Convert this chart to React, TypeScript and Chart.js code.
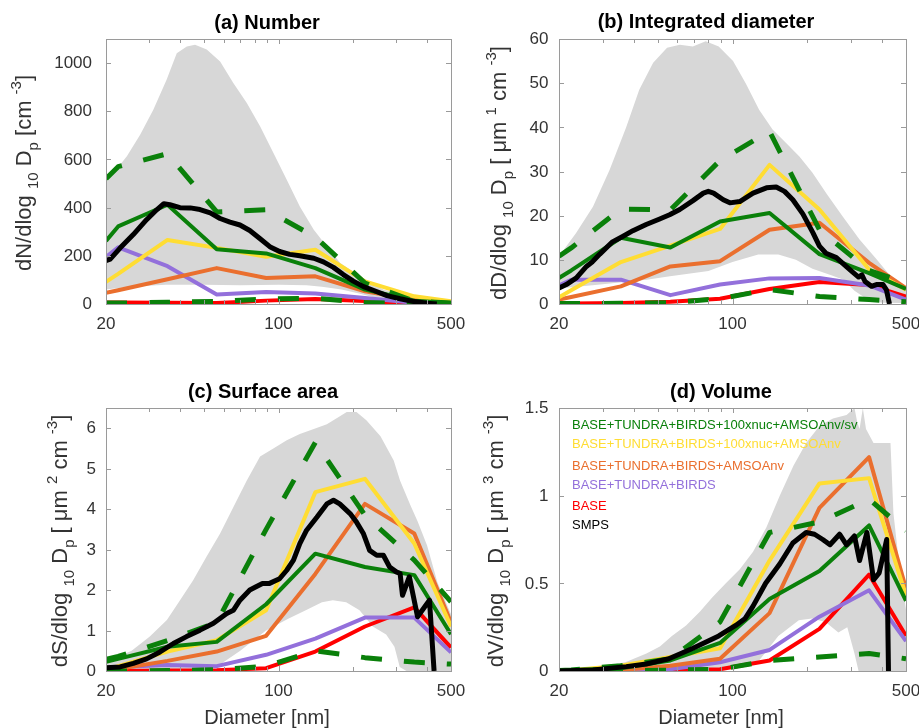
import React, { useEffect, useRef } from 'react';
import { Chart, registerables } from 'chart.js';
Chart.register(...registerables);

const FONT = '"Liberation Sans", Arial, Helvetica, sans-serif';
const GREEN = '#0a800a';
const YELLOW = '#ffdd33';
const ORANGE = '#ea6f2e';
const PURPLE = '#9370db';
const RED = '#ff0000';
const BLACK = '#000000';
const GRAY = '#d7d7d7';
const BOX = '#9a9a9a';
const TXT = '#333333';

// model bin diameters (nm)
const MODEL_D = [20, 22.4, 35.5, 56.2, 89.1, 141, 224, 355, 500];
const X_TICK_LABELS = [20, 100, 500];
const X_TICK_MARKS = [30, 40, 50, 60, 70, 80, 90, 100, 200, 300, 400];

// ---------- (a) Number ----------
const A_GREEN = [262, 322, 412, 227, 210, 149, 60, 14, 4];
const A_YELLOW = [92, 125, 266, 233, 196, 225, 94, 32, 11];
const A_ORANGE = [46, 57, 103, 149, 108, 115, 53, 18, 5];
const A_PURPLE = [195, 235, 157, 39, 50, 44, 25, 5, 1];
const A_RED = [6, 6, 5, 4, 14, 21, 12, 3, 1];
const A_DASH_UP = [520, 570, 624, 382, 391, 278, 87, 11, 4];
const A_DASH_LO = [4, 4, 7, 11, 21, 24, 6, 2, 1];
const A_SMPS_D = [20, 20.8, 22.8, 25.8, 29.2, 32.1, 34.3, 36.3, 39.9, 43.9, 48.1, 52.9, 58, 63.6, 69.8, 76.5, 84, 92.2, 101, 111, 122, 139, 152, 167, 183, 201, 221, 242, 275, 311, 354, 400, 438];
const A_SMPS = [180, 186, 232, 288, 350, 391, 416, 412, 400, 399, 392, 378, 355, 340, 328, 305, 272, 238, 218, 206, 200, 190, 175, 152, 122, 95, 72, 57, 35, 22, 10, 3, 0];
const A_UP_D = [20, 24.3, 27.5, 31.1, 35.2, 38.7, 42.5, 45.9, 51.2, 58, 65.6, 74.4, 84.3, 95.4, 108, 122, 139, 157, 178, 214, 267, 364, 500];
const A_UP = [505, 613, 703, 806, 931, 1041, 1069, 1076, 1056, 1007, 917, 834, 737, 627, 516, 405, 308, 239, 170, 115, 59, 25, 11];
const A_LO_D = [20, 25, 35, 50, 70, 100, 130, 150, 180, 210, 250, 300, 400, 500];
const A_LO = [60, 72, 80, 80, 78, 80, 78, 72, 60, 45, 25, 10, 3, 2];
const A_YTICKS = [0, 200, 400, 600, 800, 1000];

// ---------- (b) Integrated diameter ----------
const B_GREEN = [5.9, 7.6, 15.0, 12.8, 18.7, 20.6, 11.3, 7.0, 3.4];
const B_YELLOW = [1.5, 3.1, 9.5, 13.2, 17.0, 31.5, 21.4, 7.8, 3.2];
const B_ORANGE = [1.0, 1.6, 4.0, 8.5, 9.7, 16.8, 18.4, 9.3, 3.6];
const B_PURPLE = [4.2, 5.5, 5.5, 2.0, 4.4, 5.8, 5.9, 4.2, 1.0];
const B_RED = [0.1, 0.1, 0.2, 0.5, 1.2, 3.4, 5.0, 4.3, 1.7];
const B_DASH_UP = [10.8, 12.7, 21.5, 21.3, 32.5, 39.1, 16.8, 7.6, 4.8];
const B_DASH_LO = [0.1, 0.1, 0.15, 0.3, 1.2, 3.3, 1.7, 1.0, 0.5];
const B_SMPS_D = [20, 21.4, 23.5, 25.8, 27.2, 29.2, 32.7, 36.1, 39.7, 44.9, 50.6, 55.8, 61.3, 69.3, 76.3, 79.9, 83.9, 91.8, 97.6, 107, 121, 137, 150, 162, 175, 192, 211, 224, 238, 262, 287, 305, 322, 332, 342, 363, 380, 404, 417, 429];
const B_SMPS = [3.6, 4.4, 5.9, 8.5, 9.5, 11.3, 14.0, 15.3, 16.6, 18.0, 19.2, 20.2, 21.4, 23.4, 25.1, 25.5, 25.1, 23.6, 22.9, 23.2, 25.1, 26.3, 26.5, 25.5, 23.6, 20.4, 16.1, 13.1, 11.5, 10.5, 8.5, 7.2, 6.1, 6.6, 5.1, 4.0, 4.4, 4.4, 3.2, 0];
const B_UP_D = [20, 23.4, 27.4, 32, 37.3, 42.1, 47.9, 54.5, 61.4, 69.2, 78, 88, 100.5, 113, 128, 145, 164, 186, 210, 239, 278, 325, 382, 445, 500];
const B_UP = [10.8, 16, 22, 30.4, 40, 48.5, 54.6, 58, 58.7, 58.3, 59.5, 58.3, 55, 50, 44, 39.5, 36.5, 33.4, 29.7, 25, 19.8, 14.6, 10, 5.5, 3.2];
const B_LO_D = [20, 30, 45, 56, 80, 100, 127, 153, 180, 210, 250, 280, 310, 350, 400, 500];
const B_LO = [3.5, 4.5, 5.5, 6.3, 7.5, 9.5, 11.2, 11.2, 10, 8, 6.5, 5.5, 3, 1, 0.3, 0.2];
const B_YTICKS = [0, 10, 20, 30, 40, 50, 60];

// ---------- (c) Surface area ----------
const C_GREEN = [0.23, 0.3, 0.6, 0.72, 1.65, 2.9, 2.57, 2.37, 0.91];
const C_YELLOW = [0.02, 0.12, 0.48, 0.76, 1.5, 4.42, 4.75, 3.15, 1.1];
const C_ORANGE = [0.02, 0.05, 0.25, 0.48, 0.87, 2.4, 4.13, 3.4, 1.2];
const C_PURPLE = [0.08, 0.1, 0.15, 0.12, 0.4, 0.8, 1.32, 1.32, 0.46];
const C_RED = [0, 0, 0.01, 0.02, 0.07, 0.48, 1.1, 1.57, 0.58];
const C_DASH_UP = [0.29, 0.36, 0.75, 1.2, 3.5, 5.65, 3.85, 2.74, 1.71];
const C_DASH_LO = [0, 0, 0.01, 0.03, 0.12, 0.5, 0.33, 0.22, 0.17];
const C_SMPS_D = [20, 22.8, 25.8, 29.2, 33.1, 37.5, 42.4, 48.1, 54.5, 61.7, 65.6, 69.8, 76.5, 81.1, 86.1, 91.5, 101, 108, 115, 122, 130, 143, 157, 167, 177, 195, 207, 221, 234, 250, 266, 282, 300, 311, 318, 339, 366, 409, 427];
const C_SMPS = [0.08, 0.1, 0.19, 0.3, 0.47, 0.68, 0.85, 1.01, 1.18, 1.42, 1.5, 1.75, 2.0, 2.08, 2.16, 2.16, 2.28, 2.49, 2.74, 3.15, 3.48, 3.8, 4.13, 4.22, 4.13, 3.89, 3.68, 3.39, 2.98, 2.86, 2.86, 2.57, 2.45, 2.41, 1.87, 2.33, 1.34, 1.75, 0];
const C_UP_D = [20, 25.4, 30.1, 35.3, 39.9, 45.1, 51, 58, 65.6, 74.3, 84.2, 95.3, 108, 122, 139, 157, 178, 189, 207, 227, 259, 293, 311, 342, 366, 400, 440, 500];
const C_UP = [0.23, 0.5, 0.85, 1.26, 1.75, 2.24, 2.82, 3.4, 4.05, 4.7, 5.3, 5.5, 5.7, 5.86, 5.98, 6.1, 6.3, 6.4, 6.4, 6.2, 5.8, 5.2, 4.7, 4.1, 3.7, 3.1, 2.2, 1.4];
const C_LO_D = [20, 40, 56, 70, 89, 110, 129, 150, 166, 188, 213, 241, 273, 295, 310, 330, 500];
const C_LO = [0, 0, 0.1, 0.5, 1.0, 1.3, 1.5, 1.7, 1.75, 1.7, 1.5, 1.1, 0.9, 0.6, 0.1, 0, 0];
const C_YTICKS = [0, 1, 2, 3, 4, 5, 6];

// ---------- (d) Volume ----------
const D_GREEN = [0, 0.005, 0.015, 0.06, 0.16, 0.41, 0.57, 0.83, 0.4];
const D_YELLOW = [0, 0.005, 0.03, 0.08, 0.13, 0.63, 1.07, 1.1, 0.43];
const D_ORANGE = [0, 0.002, 0.005, 0.03, 0.07, 0.33, 0.93, 1.22, 0.47];
const D_PURPLE = [0, 0, 0.003, 0.01, 0.05, 0.12, 0.31, 0.46, 0.17];
const D_RED = [0, 0, 0.002, 0.005, 0.01, 0.06, 0.24, 0.55, 0.2];
const D_DASH_UP = [0.003, 0.006, 0.03, 0.07, 0.28, 0.79, 0.85, 0.98, 0.8];
const D_DASH_LO = [0, 0, 0.002, 0.005, 0.01, 0.06, 0.08, 0.1, 0.07];
const D_SMPS_D = [20, 27.4, 37.3, 44.9, 55.4, 69.3, 88, 103, 112.5, 121, 136, 155, 175, 198, 214, 231, 247, 270, 288, 310, 325, 348, 370, 390, 418, 425];
const D_SMPS = [0, 0.006, 0.025, 0.04, 0.07, 0.13, 0.2, 0.26, 0.3, 0.37, 0.5, 0.61, 0.73, 0.79, 0.78, 0.75, 0.72, 0.78, 0.72, 0.77, 0.63, 0.79, 0.52, 0.56, 0.75, 0];
const D_UP_D = [20, 27, 37, 45, 51, 57, 65, 74, 83, 94, 107, 121, 137, 155, 176, 198, 225, 254, 288, 310, 318, 325, 335, 345, 370, 400, 433, 445, 470, 500];
const D_UP = [0.003, 0.015, 0.05, 0.1, 0.14, 0.2, 0.26, 0.34, 0.42, 0.5, 0.58, 0.68, 0.82, 1.0, 1.17, 1.3, 1.4, 1.44, 1.46, 1.5, 1.42, 1.38, 1.5, 1.38, 1.3, 1.3, 1.3, 0.9, 0.6, 0.35];
const D_LO_D = [20, 100, 128, 153, 185, 209, 237, 267, 290, 310, 322, 500];
const D_LO = [0, 0.02, 0.06, 0.2, 0.29, 0.3, 0.28, 0.22, 0.25, 0.1, 0, 0];
const D_YTICKS = [0, 0.5, 1, 1.5];

const LEGEND_LABELS = [
  'BASE+TUNDRA+BIRDS+100xnuc+AMSOAnv/sv',
  'BASE+TUNDRA+BIRDS+100xnuc+AMSOAnv',
  'BASE+TUNDRA+BIRDS+AMSOAnv',
  'BASE+TUNDRA+BIRDS',
  'BASE',
  'SMPS',
];
const LEGEND_COLORS = [GREEN, YELLOW, ORANGE, PURPLE, RED, BLACK];
const LEGEND_Y = [425, 444.5, 466.5, 485.5, 506, 525.5];

type Seg = { t: string; k?: 'sub' | 'sup' };

function pts(xs: number[], ys: number[]) {
  return xs.map((x, i) => ({ x, y: ys[i] }));
}

function line(xs: number[], ys: number[], color: string, width: number, dashed = false) {
  return {
    data: pts(xs, ys),
    borderColor: color,
    backgroundColor: color,
    borderWidth: width,
    borderDash: dashed ? [21, 22] : [],
    borderJoinStyle: 'round',
    borderCapStyle: 'butt',
    pointRadius: 0,
    fill: false,
    tension: 0,
  };
}

function buildDatasets(s: any) {
  return [
    line(s.smpsD, s.smps, BLACK, 5),
    line(MODEL_D, s.dashUp, GREEN, 5, true),
    line(MODEL_D, s.dashLo, GREEN, 5, true),
    line(MODEL_D, s.green, GREEN, 4),
    line(MODEL_D, s.yellow, YELLOW, 4),
    line(MODEL_D, s.orange, ORANGE, 4),
    line(MODEL_D, s.purple, PURPLE, 4),
    line(MODEL_D, s.red, RED, 4),
    { data: pts(s.loD, s.lo), borderWidth: 0, pointRadius: 0, fill: false, borderColor: GRAY, backgroundColor: GRAY, tension: 0 },
    { data: pts(s.upD, s.up), borderWidth: 0, pointRadius: 0, fill: 8, borderColor: GRAY, backgroundColor: GRAY, tension: 0 },
  ];
}

const PANELS = [
  {
    key: 'a', x: 0, y: 0, w: 480, h: 340, area: { l: 106, t: 39, r: 451, b: 304 }, ymax: 1100,
    yticks: A_YTICKS, ytickLabels: A_YTICKS.map(String), yTickRight: 92,
    title: '(a) Number', titleX: 267, titleY: 23,
    ylabel: [{ t: 'dN/dlog ' }, { t: '10', k: 'sub' }, { t: ' D' }, { t: 'p', k: 'sub' }, { t: ' [cm ' }, { t: '-3', k: 'sup' }, { t: ']' }] as Seg[],
    ylabelX: 31, ylabelY: 173, xTickY: 324, xlabel: null,
    series: { smpsD: A_SMPS_D, smps: A_SMPS, dashUp: A_DASH_UP, dashLo: A_DASH_LO, green: A_GREEN, yellow: A_YELLOW, orange: A_ORANGE, purple: A_PURPLE, red: A_RED, upD: A_UP_D, up: A_UP, loD: A_LO_D, lo: A_LO },
    legend: false,
  },
  {
    key: 'b', x: 459, y: 0, w: 460, h: 340, area: { l: 559, t: 39, r: 906, b: 304 }, ymax: 60,
    yticks: B_YTICKS, ytickLabels: B_YTICKS.map(String), yTickRight: 548.5,
    title: '(b) Integrated diameter', titleX: 706, titleY: 22,
    ylabel: [{ t: 'dD/dlog ' }, { t: '10', k: 'sub' }, { t: ' D' }, { t: 'p', k: 'sub' }, { t: ' [ μm ' }, { t: '1', k: 'sup' }, { t: ' cm ' }, { t: '-3', k: 'sup' }, { t: ']' }] as Seg[],
    ylabelX: 506, ylabelY: 173, xTickY: 324, xlabel: null,
    series: { smpsD: B_SMPS_D, smps: B_SMPS, dashUp: B_DASH_UP, dashLo: B_DASH_LO, green: B_GREEN, yellow: B_YELLOW, orange: B_ORANGE, purple: B_PURPLE, red: B_RED, upD: B_UP_D, up: B_UP, loD: B_LO_D, lo: B_LO },
    legend: false,
  },
  {
    key: 'c', x: 0, y: 340, w: 480, h: 388, area: { l: 106, t: 408, r: 451, b: 671 }, ymax: 6.5,
    yticks: C_YTICKS, ytickLabels: C_YTICKS.map(String), yTickRight: 96,
    title: '(c) Surface area', titleX: 263, titleY: 392,
    ylabel: [{ t: 'dS/dlog ' }, { t: '10', k: 'sub' }, { t: ' D' }, { t: 'p', k: 'sub' }, { t: ' [ μm ' }, { t: '2', k: 'sup' }, { t: ' cm ' }, { t: '-3', k: 'sup' }, { t: ']' }] as Seg[],
    ylabelX: 67, ylabelY: 541, xTickY: 691, xlabel: 'Diameter [nm]', xlabelX: 267, xlabelY: 718,
    series: { smpsD: C_SMPS_D, smps: C_SMPS, dashUp: C_DASH_UP, dashLo: C_DASH_LO, green: C_GREEN, yellow: C_YELLOW, orange: C_ORANGE, purple: C_PURPLE, red: C_RED, upD: C_UP_D, up: C_UP, loD: C_LO_D, lo: C_LO },
    legend: false,
  },
  {
    key: 'd', x: 459, y: 340, w: 460, h: 388, area: { l: 559, t: 408, r: 906, b: 671 }, ymax: 1.5,
    yticks: D_YTICKS, ytickLabels: ['0', '0.5', '1', '1.5'], yTickRight: 548.5,
    title: '(d) Volume', titleX: 721, titleY: 392,
    ylabel: [{ t: 'dV/dlog ' }, { t: '10', k: 'sub' }, { t: ' D' }, { t: 'p', k: 'sub' }, { t: ' [ μm ' }, { t: '3', k: 'sup' }, { t: ' cm ' }, { t: '-3', k: 'sup' }, { t: ']' }] as Seg[],
    ylabelX: 502.5, ylabelY: 541, xTickY: 691, xlabel: 'Diameter [nm]', xlabelX: 721, xlabelY: 718,
    series: { smpsD: D_SMPS_D, smps: D_SMPS, dashUp: D_DASH_UP, dashLo: D_DASH_LO, green: D_GREEN, yellow: D_YELLOW, orange: D_ORANGE, purple: D_PURPLE, red: D_RED, upD: D_UP_D, up: D_UP, loD: D_LO_D, lo: D_LO },
    legend: true,
  },
];

function drawRich(ctx: CanvasRenderingContext2D, segs: Seg[], bx: number, cy: number) {
  const big = 22, small = 15;
  ctx.save();
  ctx.translate(bx, cy);
  ctx.rotate(-Math.PI / 2);
  ctx.textAlign = 'left';
  ctx.textBaseline = 'alphabetic';
  ctx.fillStyle = TXT;
  const widths = segs.map((s) => {
    ctx.font = `${s.k ? small : big}px ${FONT}`;
    return ctx.measureText(s.t).width;
  });
  const total = widths.reduce((a, b) => a + b, 0);
  let x = -total / 2;
  segs.forEach((s, i) => {
    ctx.font = `${s.k ? small : big}px ${FONT}`;
    const dy = s.k === 'sub' ? 7 : s.k === 'sup' ? -10 : 0;
    ctx.fillText(s.t, x, dy);
    x += widths[i];
  });
  ctx.restore();
}

function makeDecor(p: any) {
  return {
    id: 'decor' + p.key,
    afterDatasetsDraw(chart: any) {
      const { ctx, chartArea: ca, scales } = chart;
      const xs = scales.x, ys = scales.y;
      ctx.save();
      ctx.strokeStyle = BOX;
      ctx.lineWidth = 1;
      const L = Math.round(ca.left), T = Math.round(ca.top), R = Math.round(ca.right), B = Math.round(ca.bottom);
      ctx.strokeRect(L + 0.5, T + 0.5, R - L, B - T);
      ctx.beginPath();
      X_TICK_MARKS.forEach((v) => {
        const px = Math.round(xs.getPixelForValue(v)) + 0.5;
        const len = v === 100 ? 5 : 4;
        ctx.moveTo(px, B);
        ctx.lineTo(px, B - len);
        ctx.moveTo(px, T);
        ctx.lineTo(px, T + len);
      });
      p.yticks.forEach((v: number) => {
        const py = Math.round(ys.getPixelForValue(v)) + 0.5;
        ctx.moveTo(L, py);
        ctx.lineTo(L + 5, py);
        ctx.moveTo(R, py);
        ctx.lineTo(R - 5, py);
      });
      ctx.stroke();
      ctx.restore();
    },
    afterDraw(chart: any) {
      const { ctx, scales } = chart;
      const xs = scales.x, ys = scales.y;
      const ox = p.x, oy = p.y;
      ctx.save();
      ctx.fillStyle = TXT;
      ctx.font = `17px ${FONT}`;
      ctx.textAlign = 'right';
      ctx.textBaseline = 'middle';
      p.yticks.forEach((v: number, i: number) => {
        ctx.fillText(p.ytickLabels[i], p.yTickRight - ox, ys.getPixelForValue(v) + 0.5);
      });
      ctx.textAlign = 'center';
      X_TICK_LABELS.forEach((v) => {
        ctx.fillText(String(v), xs.getPixelForValue(v), p.xTickY - oy);
      });
      ctx.fillStyle = '#000';
      ctx.font = `bold 20px ${FONT}`;
      ctx.fillText(p.title, p.titleX - ox, p.titleY - oy);
      if (p.xlabel) {
        ctx.fillStyle = TXT;
        ctx.font = `20px ${FONT}`;
        ctx.fillText(p.xlabel, p.xlabelX - ox, p.xlabelY - oy);
      }
      if (p.legend) {
        ctx.font = `13px ${FONT}`;
        ctx.textAlign = 'left';
        LEGEND_LABELS.forEach((lab, i) => {
          ctx.fillStyle = LEGEND_COLORS[i];
          ctx.fillText(lab, 572 - ox, LEGEND_Y[i] - oy);
        });
      }
      ctx.restore();
      drawRich(ctx, p.ylabel, p.ylabelX - ox, p.ylabelY - oy);
    },
  };
}

function Panel({ p }: { p: any }) {
  const ref = useRef<HTMLCanvasElement>(null);
  useEffect(() => {
    const canvas = ref.current!;
    const pad = {
      left: p.area.l - p.x,
      top: p.area.t - p.y,
      right: p.x + p.w - p.area.r,
      bottom: p.y + p.h - p.area.b,
    };
    const chart = new Chart(canvas, {
      type: 'line',
      data: { datasets: buildDatasets(p.series) as any },
      options: {
        responsive: false,
        animation: false,
        devicePixelRatio: 1,
        layout: { padding: pad },
        plugins: { legend: { display: false }, tooltip: { enabled: false }, title: { display: false } },
        scales: {
          x: { type: 'logarithmic', min: 20, max: 500, display: false },
          y: { type: 'linear', min: 0, max: p.ymax, display: false },
        },
      },
      plugins: [makeDecor(p)],
    } as any);
    return () => chart.destroy();
  }, []);
  return (
    <canvas
      ref={ref}
      width={p.w}
      height={p.h}
      style={{ position: 'absolute', left: p.x, top: p.y, width: p.w, height: p.h }}
    />
  );
}

export default function App() {
  return (
    <div style={{ position: 'fixed', left: 0, top: 0, width: 919, height: 728, background: '#fff', overflow: 'hidden' }}>
      {PANELS.map((p) => (
        <Panel key={p.key} p={p} />
      ))}
    </div>
  );
}
